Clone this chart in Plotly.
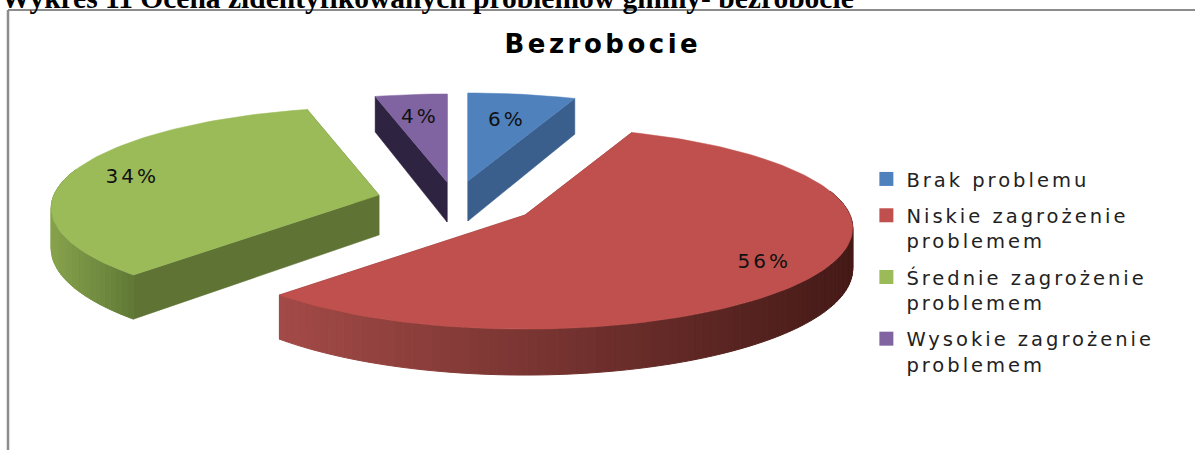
import math
import plotly.graph_objects as go

legend_names = ["Brak problemu", "Niskie zagrożenie<br>problemem", "Średnie zagrożenie<br>problemem", "Wysokie zagrożenie<br>problemem"]
values = [6, 56, 34, 4]
colors = ["#4f81bd", "#c0504d", "#9bbb59", "#8064a2"]
cut_colors = ["#3a5f8c", "#7a2f2c", "#5f7334", "#2e2340"]
wall_light = ["#3f6696", "#a34a47", "#87a24c", "#3b2d52"]
wall_dark = ["#345680", "#451a17", "#607a36", "#2e2340"]
apexes = [(468, 181), (525, 215), (379, 195), (447, 182)]
label_radius = [0.72, 0.81, 0.81, 0.76]

A, B, K, T0 = 325, 99.4, 0.129, 40


def project(apex, theta):
    u, v = math.sin(theta), math.cos(theta)
    d = 1 + K * v
    return apex[0] + A * u / d, apex[1] - B * v / d


def depth(theta):
    return T0 / (1 + K * math.cos(theta))


def poly(fig, pts, color, width=1.0, hover=None):
    fig.add_trace(go.Scatter(
        x=[p[0] for p in pts] + [pts[0][0]], y=[p[1] for p in pts] + [pts[0][1]],
        mode="lines", fill="toself", fillcolor=color, line=dict(color=color, width=width),
        showlegend=False, hoverinfo="text" if hover else "skip", text=hover))


def mix(c1, c2, f):
    a = [int(c1[i:i + 2], 16) for i in (1, 3, 5)]
    b = [int(c2[i:i + 2], 16) for i in (1, 3, 5)]
    return "rgb(%d,%d,%d)" % tuple(round(x + (y - x) * f) for x, y in zip(a, b))


fig = go.Figure()
total = sum(values)
start = 0.0
slices = []
for i, val in enumerate(values):
    sweep = 2 * math.pi * val / total
    slices.append((i, start, start + sweep))
    start += sweep

for i, th0, th1 in slices:
    apex = apexes[i]
    n = max(8, int(240 * (th1 - th0) / (2 * math.pi)))
    ths = [th0 + (th1 - th0) * j / n for j in range(n + 1)]
    # cut faces
    for edge in (th0, th1):
        p = project(apex, edge)
        poly(fig, [apex, p, (p[0], p[1] + depth(edge)), (apex[0], apex[1] + T0)], cut_colors[i], 0.5)
    # outer wall, shaded along the rim
    visible = [a for a in ths if math.cos(a) < 0.25]
    if visible:
        xs = [project(apex, a)[0] for a in visible]
        xmin, xmax = min(xs), max(xs)
        span = max(xmax - xmin, 1)
        for j in range(n):
            a0, a1 = ths[j], ths[j + 1]
            if math.cos((a0 + a1) / 2) > 0.25:
                continue
            p0, p1 = project(apex, a0), project(apex, a1)
            f = 1 - ((p0[0] + p1[0]) / 2 - xmin) / span
            poly(fig, [p0, p1, (p1[0], p1[1] + depth(a1)), (p0[0], p0[1] + depth(a0))],
                 mix(wall_dark[i], wall_light[i], max(0, min(1, f))))
    # top face
    rim = [project(apex, a) for a in ths]
    poly(fig, [apex] + rim, colors[i], 0.5, hover="%s: %d%%" % (legend_names[i].replace("<br>", " "), values[i]))
    # label
    lx, ly = project(apex, (th0 + th1) / 2)
    r = label_radius[i]
    fig.add_annotation(x=apex[0] + (lx - apex[0]) * r, y=apex[1] + (ly - apex[1]) * r,
                       text="%d%%" % values[i], showarrow=False,
                       font=dict(family="DejaVu Sans", size=20, color="#111111"))

for name, col in zip(legend_names, colors):
    fig.add_trace(go.Scatter(x=[None], y=[None], mode="markers", name=name, legendgroup=name,
                             marker=dict(symbol="square", size=14, color=col)))

fig.add_annotation(x=603, y=44, text="<b>Bezrobocie</b>", showarrow=False,
                   font=dict(family="DejaVu Sans", size=26, color="#000000"))
fig.add_annotation(xref="x", x=427, yref="paper", y=1 + 2 / 450, yanchor="middle",
                   text="<b>Wykres 11 Ocena zidentyfikowanych problemów gminy- bezrobocie</b>",
                   showarrow=False, font=dict(family="Liberation Serif", size=29.5, color="#000000"))

fig.update_layout(
    width=1195, height=450, margin=dict(l=0, r=0, t=0, b=0),
    paper_bgcolor="#ffffff", plot_bgcolor="#ffffff",
    xaxis=dict(range=[0, 1195], visible=False, fixedrange=True),
    yaxis=dict(range=[450, 0], visible=False, fixedrange=True),
    legend=dict(x=0.725, y=0.645, xanchor="left", yanchor="top", bgcolor="rgba(0,0,0,0)",
                font=dict(family="DejaVu Sans", size=19.5, color="#222222"),
                itemwidth=30, tracegroupgap=8, valign="top"),
    shapes=[
        dict(type="line", x0=8, x1=8, y0=10, y1=450, line=dict(color="#8c8c8c", width=2.5)),
        dict(type="line", x0=8, x1=1195, y0=10, y1=10, line=dict(color="#8c8c8c", width=2)),
    ],
)
post = """
document.body.style.margin = '0';
document.querySelectorAll('.legendtext').forEach(function (t) { t.style.letterSpacing = '3px'; });
document.querySelectorAll('.legend .scrollbox, .legend').forEach(function (s) {
  s.removeAttribute('clip-path'); s.style.clipPath = 'none';
});
document.querySelectorAll('.annotation-text').forEach(function (t) {
  if (t.textContent.indexOf('Wykres') === 0) return;
  t.style.letterSpacing = t.textContent.indexOf('Bezro') === 0 ? '3.5px' : '3px';
});
"""
fig.write_html("out.html", post_script=post, config=dict(displayModeBar=False))
